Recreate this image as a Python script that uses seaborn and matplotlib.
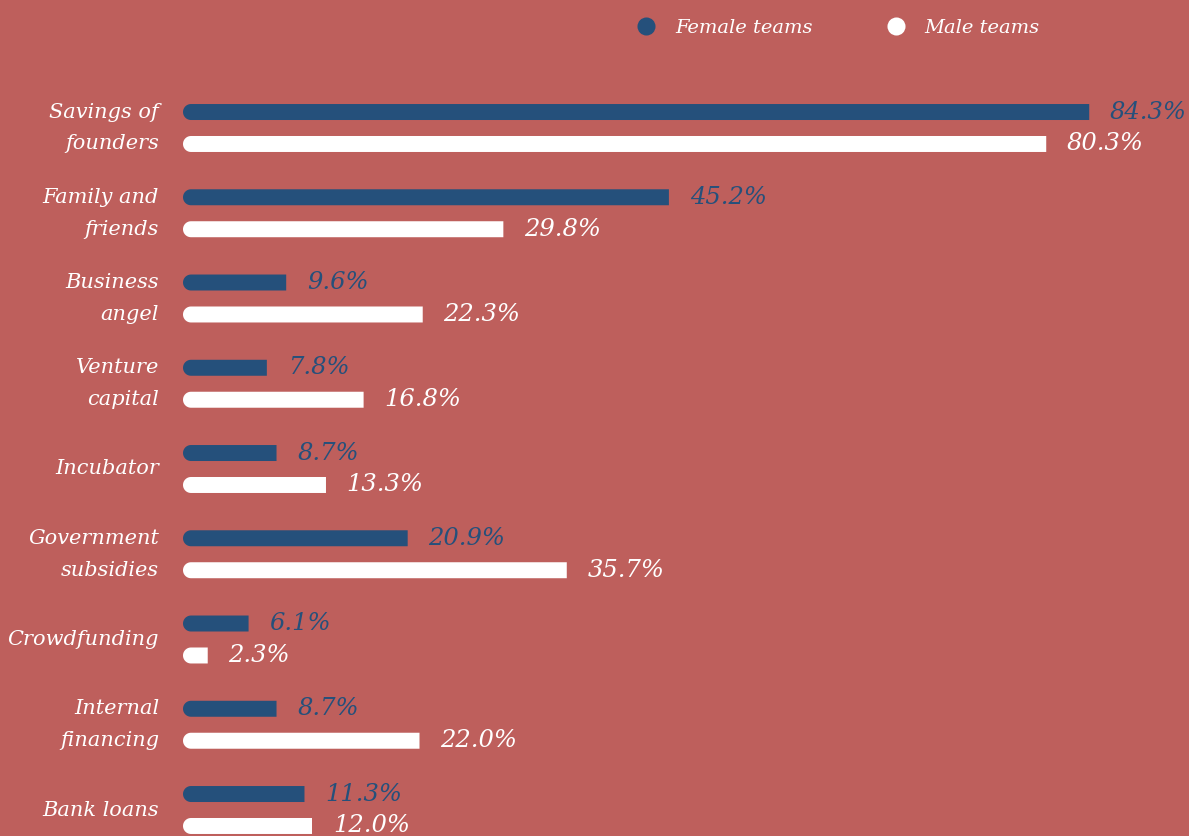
import numpy as np
import pandas as pd
import matplotlib
matplotlib.use("Agg")
import matplotlib.pyplot as plt
import seaborn as sns
from matplotlib.path import Path
from matplotlib.patches import PathPatch
from matplotlib.lines import Line2D

categories = ["Savings of\nfounders", "Family and\nfriends", "Business\nangel",
              "Venture\ncapital", "Incubator", "Government\nsubsidies",
              "Crowdfunding", "Internal\nfinancing", "Bank loans"]
female = [84.3, 45.2, 9.6, 7.8, 8.7, 20.9, 6.1, 8.7, 11.3]
male = [80.3, 29.8, 22.3, 16.8, 13.3, 35.7, 2.3, 22.0, 12.0]
teams = ["Female teams", "Male teams"]

BG = "#BE5F5C"
BLUE = "#25507B"
WHITE = "#FFFFFF"

df = pd.DataFrame({
    "source": categories * 2,
    "value": female + male,
    "team": [teams[0]] * len(categories) + [teams[1]] * len(categories),
})

sns.set_theme(style="white")
plt.rcParams["font.family"] = ["DejaVu Serif"]
plt.rcParams["font.style"] = "italic"

W, H = 1189, 836
fig = plt.figure(figsize=(W / 100, H / 100), dpi=100, facecolor=BG)
ax = fig.add_axes([0, 0, 1, 1])
ax.set_facecolor(BG)

sns.barplot(data=df, x="value", y="source", hue="team", orient="h",
            palette=[BLUE, WHITE], width=0.75, gap=0.5, legend=False,
            order=categories, hue_order=teams, ax=ax, saturation=1)

xpx = 10.75
x0px = 183
ax.set_xlim(-x0px / xpx, (W - x0px) / xpx)
ypx = 85.25
ax.set_ylim((H - 128) / ypx, -128 / ypx)

for spine in ax.spines.values():
    spine.set_visible(False)
ax.set_xticks([])
ax.set_xlabel("")
ax.set_ylabel("")
ax.tick_params(axis="y", length=0, pad=-159 * 0.72, labelsize=15, labelcolor=WHITE)
for lab in ax.get_yticklabels():
    lab.set_fontstyle("italic")
    lab.set_linespacing(1.85)
    lab.set_horizontalalignment("right")
    lab.set_verticalalignment("center")

# value labels
for cont, col in zip(ax.containers, [BLUE, WHITE]):
    vals = [p.get_width() for p in cont.patches]
    ax.bar_label(cont, labels=[f"{v:.1f}%" for v in vals], padding=15,
                 color=col, fontsize=17.5, fontstyle="italic")

# rounded left ends
r_px = 8
for cont in ax.containers:
    for p in cont.patches:
        x, y, w, h = p.get_x(), p.get_y(), p.get_width(), p.get_height()
        rx = r_px / xpx
        ry = h / 2
        yc = y + h / 2
        ang = np.linspace(np.pi / 2, 3 * np.pi / 2, 30)
        arc = np.column_stack([x + rx + rx * np.cos(ang), yc + ry * np.sin(ang)])
        verts = np.vstack([[[x + w, y + h]], arc, [[x + w, y], [x + w, y + h]]])
        path = Path(verts)
        pp = PathPatch(path, facecolor=p.get_facecolor(), edgecolor="none",
                       transform=ax.transData)
        ax.add_patch(pp)
        p.set_visible(False)

handles = [Line2D([], [], marker="o", linestyle="none", markersize=13,
                  markerfacecolor=c, markeredgecolor="none") for c in [BLUE, WHITE]]
leg = fig.legend(handles, teams, loc="center left", ncol=2, frameon=False,
                 bbox_to_anchor=(619 / W, 1 - 28 / H), bbox_transform=fig.transFigure,
                 prop={"size": 14, "style": "italic"}, labelcolor=WHITE,
                 handletextpad=0.5, columnspacing=3.25, borderaxespad=0)

fig.savefig("out.png", dpi=100, facecolor=BG)
